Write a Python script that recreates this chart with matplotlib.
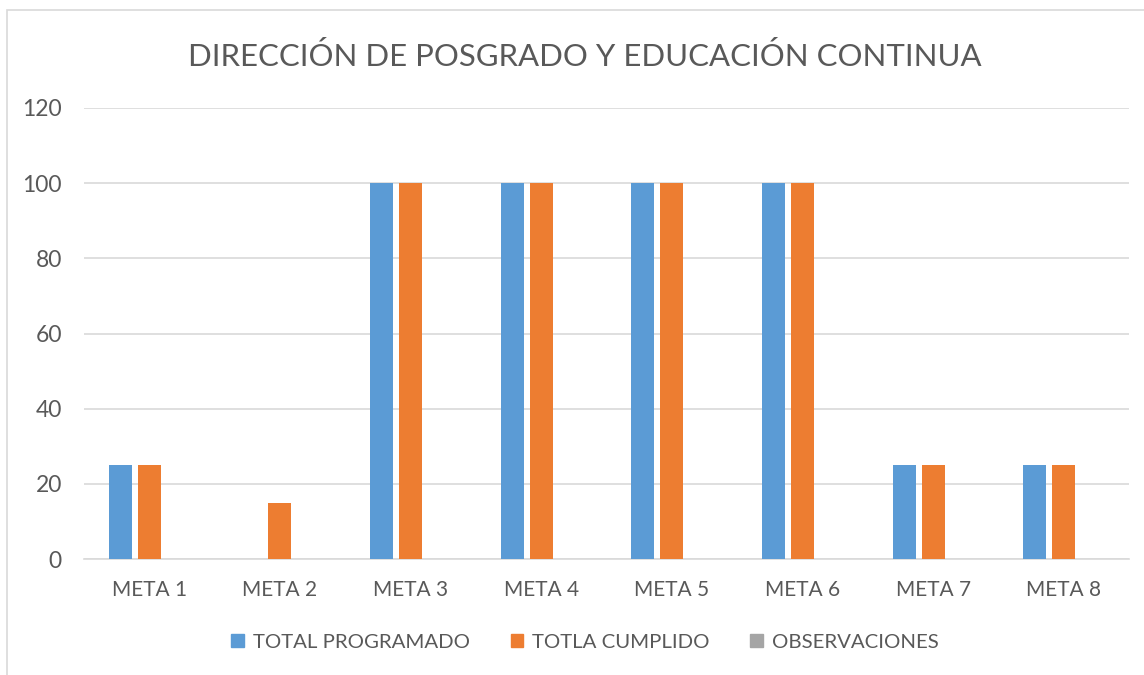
import numpy as np
import matplotlib.pyplot as plt
from matplotlib.patches import Rectangle, Patch

# data
categories = ["META 1", "META 2", "META 3", "META 4", "META 5", "META 6", "META 7", "META 8"]
total_programado = [25, 0, 100, 100, 100, 100, 25, 25]
totla_cumplido = [25, 15, 100, 100, 100, 100, 25, 25]
observaciones = [0, 0, 0, 0, 0, 0, 0, 0]
series_names = ["TOTAL PROGRAMADO", "TOTLA CUMPLIDO", "OBSERVACIONES"]
colors = ["#5b9bd5", "#ed7d31", "#a5a5a5"]

plt.rcParams['font.family'] = ['Lato', 'DejaVu Sans']
text_color = "#595959"

W, H = 1144, 675
fig = plt.figure(figsize=(W / 100, H / 100), dpi=100)

# chart frame
fig.patches.append(Rectangle((7 / W, -0.05), 1.1, 1 - 10 / H + 0.05,
                             transform=fig.transFigure, fill=False,
                             edgecolor="#d9d9d9", linewidth=1.2))

ax = fig.add_axes([84 / W, 116 / H, (1129 - 84) / W, (559 - 108) / H])

x = np.arange(len(categories))
width = 23 / 130.6
step = 29 / 130.6
for i, vals in enumerate([total_programado, totla_cumplido, observaciones]):
    ax.bar(x + (i - 1) * step, vals, width=width, color=colors[i], label=series_names[i], zorder=3)

ax.set_xlim(-0.5, len(categories) - 0.5)
ax.set_ylim(0, 120)
ax.set_yticks(np.arange(0, 121, 20))
ax.set_xticks(x)
ax.set_xticklabels(categories)
ax.grid(axis='y', color="#d9d9d9", linewidth=1.2, zorder=0)
for s in ["top", "right", "left"]:
    ax.spines[s].set_visible(False)
ax.spines["bottom"].set_color("#d9d9d9")
ax.spines["bottom"].set_linewidth(1.2)
ax.tick_params(axis='both', length=0, labelcolor=text_color)
ax.tick_params(axis='x', labelsize=15, pad=15)
ax.tick_params(axis='y', labelsize=16.5, pad=16)

center_x = 585 / W
fig.text(center_x, 1 - 57 / H, "DIRECCIÓN DE POSGRADO Y EDUCACIÓN CONTINUA",
         ha='center', va='center', fontsize=22.4, color=text_color)

handles = [Patch(color=c) for c in colors]
fig.legend(handles, series_names, loc='center', bbox_to_anchor=(center_x, 1 - 642 / H),
           ncol=3, frameon=False, fontsize=14.7, labelcolor=text_color,
           handlelength=0.6, handleheight=0.6, handletextpad=0.45, columnspacing=2.0)

plt.savefig("out.png", dpi=100)
